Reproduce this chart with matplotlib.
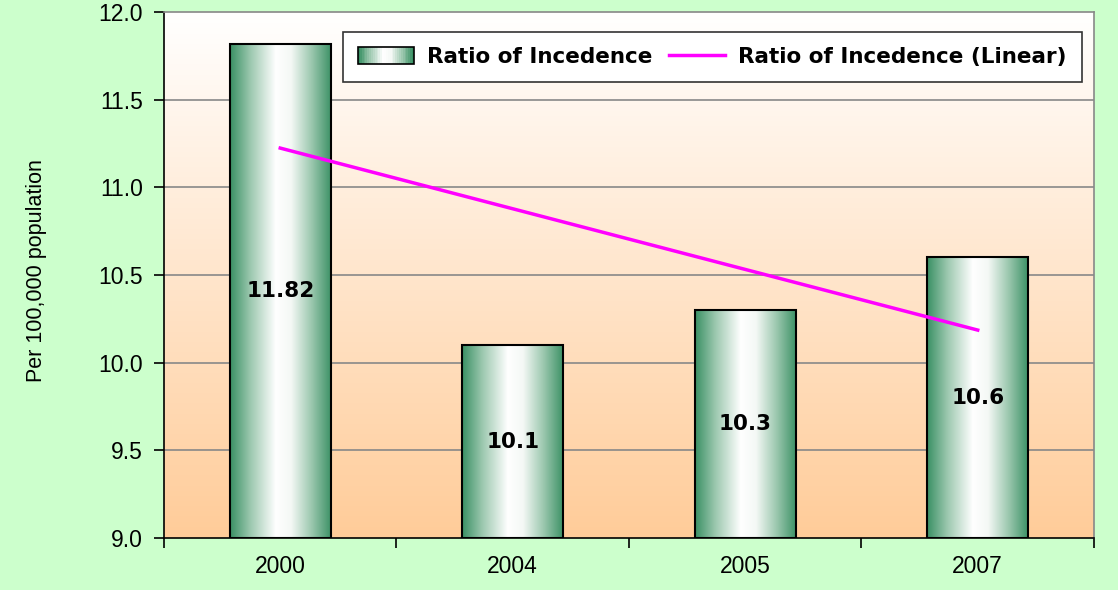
import numpy as np
import matplotlib
matplotlib.use("Agg")
import matplotlib.pyplot as plt
from matplotlib.colors import LinearSegmentedColormap
from matplotlib.patches import Rectangle
from matplotlib.legend_handler import HandlerBase
from matplotlib.lines import Line2D

# =============================
# Dados
# =============================
anos = ["2000", "2004", "2005", "2007"]
valores = [11.82, 10.1, 10.3, 10.6]
rotulos = ["11.82", "10.1", "10.3", "10.6"]

y_min, y_max = 9.0, 12.0
y_ticks = [9.0, 9.5, 10.0, 10.5, 11.0, 11.5, 12.0]

verde_fundo = "#CCFFCC"
rosa = "#FF00FF"

# gradiente horizontal das barras (verde - branco - verde)
cmap_barra = LinearSegmentedColormap.from_list(
    "barra", [(0.0, "#3A9064"), (0.2, "#9CC8AF"), (0.45, "#FFFFFF"),
              (0.6, "#F4F8F5"), (0.8, "#9CC8AF"), (1.0, "#3A9064")])
# gradiente vertical do fundo (branco em cima, pessego embaixo)
cmap_fundo = LinearSegmentedColormap.from_list("fundo", ["#FFCC99", "#FFFFFF"])


class HandlerGradiente(HandlerBase):
    def create_artists(self, legend, orig_handle, xdescent, ydescent,
                       width, height, fontsize, trans):
        artistas = []
        n = 30
        for i in range(n):
            r = Rectangle((-xdescent + width * i / n, -ydescent), width / n + 0.3, height,
                          facecolor=cmap_barra(i / (n - 1)), edgecolor="none",
                          transform=trans)
            artistas.append(r)
        borda = Rectangle((-xdescent, -ydescent), width, height, facecolor="none",
                          edgecolor="black", lw=1.2, transform=trans)
        artistas.append(borda)
        return artistas


fig = plt.figure(figsize=(11.18, 5.90), dpi=100, facecolor=verde_fundo)
ax = fig.add_axes([0.1467, 0.0881, 0.8318, 0.8915])

x = np.arange(len(anos))
largura = 0.435
ax.set_xlim(-0.5, len(anos) - 0.5)
ax.set_ylim(y_min, y_max)

# fundo em gradiente
grad_v = np.linspace(0, 1, 256).reshape(-1, 1)
ax.imshow(grad_v, cmap=cmap_fundo, origin="lower", aspect="auto",
          extent=[-0.5, len(anos) - 0.5, y_min, y_max], zorder=0)

# grade
for t in y_ticks[1:-1]:
    ax.axhline(t, color="#888888", lw=1.2, zorder=1)

# barras
barras = ax.bar(x, [v - y_min for v in valores], width=largura, bottom=y_min,
                facecolor="none", edgecolor="black", lw=1.5, zorder=3)
grad_h = np.linspace(0, 1, 256).reshape(1, -1)
for b, v in zip(barras, valores):
    x0 = b.get_x()
    im = ax.imshow(grad_h, cmap=cmap_barra, aspect="auto",
                   extent=[x0, x0 + largura, y_min, v], zorder=2)
    im.set_clip_path(b)

# rotulos no meio da barra
for xi, v, r in zip(x, valores, rotulos):
    ax.text(xi, (y_min + v) / 2, r, ha="center", va="center",
            fontsize=15.5, fontweight="bold", family="DejaVu Sans", zorder=5)

# linha de tendencia (linear)
coef = np.polyfit(x, valores, 1)
ax.plot(x, np.polyval(coef, x), color=rosa, lw=2.5, zorder=4)

# eixos
ax.set_yticks(y_ticks)
ax.set_yticklabels([f"{t:.1f}" for t in y_ticks], fontsize=16.5, family="Liberation Sans")
ax.set_xticks(np.arange(-0.5, len(anos), 1.0))
ax.set_xticklabels([])
ax.set_xticks(x, minor=True)
ax.set_xticklabels(anos, minor=True, fontsize=16.5, family="Liberation Sans")
ax.tick_params(axis="x", which="minor", length=0, pad=12)
ax.tick_params(axis="x", which="major", length=7, width=1.2, direction="out")
ax.tick_params(axis="y", length=7, width=1.2, direction="out", pad=8)

for lado in ["top", "right"]:
    ax.spines[lado].set_color("#888888")
    ax.spines[lado].set_linewidth(1.2)
for lado in ["left", "bottom"]:
    ax.spines[lado].set_color("black")
    ax.spines[lado].set_linewidth(1.2)

fig.text(0.033, 0.542, "Per 100,000 population", rotation=90, ha="center", va="center",
         fontsize=15.5, family=["Liberation Sans Narrow", "Liberation Sans"])

# legenda
h_barra = Rectangle((0, 0), 1, 1)
h_linha = Line2D([], [], color=rosa, lw=2.5)
leg = ax.legend([h_barra, h_linha], ["Ratio of Incedence", "Ratio of Incedence (Linear)"],
                handler_map={Rectangle: HandlerGradiente()},
                loc="upper right", bbox_to_anchor=(0.987, 0.962), ncol=2,
                prop={"family": "DejaVu Sans", "weight": "bold", "size": 15.5},
                fancybox=False, framealpha=1, edgecolor="#333333",
                handlelength=2.6, handleheight=0.8, columnspacing=0.8,
                handletextpad=0.6, borderpad=0.7, borderaxespad=0)
leg.get_frame().set_linewidth(1.2)
leg.set_zorder(6)

fig.savefig("out.png", dpi=100, facecolor=verde_fundo)
